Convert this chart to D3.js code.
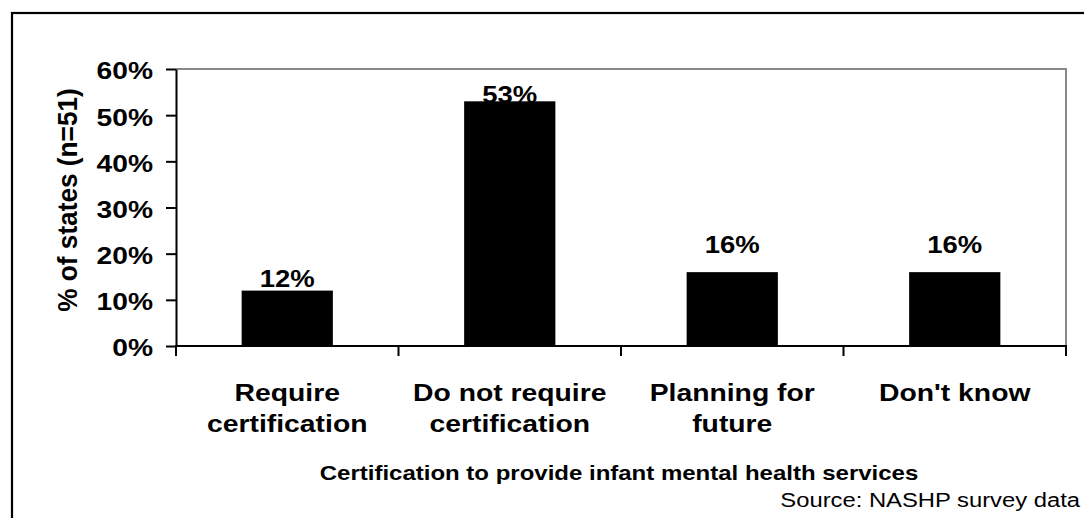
<!DOCTYPE html>
<html>
<head>
<meta charset="utf-8">
<script src="https://cdn.jsdelivr.net/npm/d3@7/dist/d3.min.js"></script>
<style>
  body { margin: 0; background: #fff; }
  svg { display: block; }
  text { font-family: "Liberation Sans", Arial, sans-serif; fill: #000; }
</style>
</head>
<body>
<script>
// chart data
var categories = [["Require", "certification"], ["Do not require", "certification"], ["Planning for", "future"], ["Don't know"]];
var values = [12, 53, 16, 16];
var yTicks = [0, 10, 20, 30, 40, 50, 60];
var yTitle = "% of states (n=51)";
var xTitle = "Certification to provide infant mental health services";
var source = "Source:  NASHP survey data";

var W = 1084, H = 518;
var plot = { left: 176, top: 69, right: 1066, bottom: 346 };
var sx = 1.2; // the original picture is stretched sideways

var svg = d3.select('body').append('svg')
    .attr('width', W)
    .attr('height', H);

// outer frame (runs off the right and bottom edges)
svg.append('rect')
   .attr('x', 12).attr('y', 13)
   .attr('width', W + 20).attr('height', H + 20)
   .attr('fill', 'none').attr('stroke', '#000').attr('stroke-width', 2.2);

var x = d3.scaleBand()
    .domain(d3.range(values.length))
    .range([plot.left, plot.right])
    .paddingInner(0.59)
    .paddingOuter(0.295);

var y = d3.scaleLinear()
    .domain([0, 60])
    .range([plot.bottom, plot.top]);

// grey plot border on top and right
svg.append('path')
   .attr('d', 'M' + plot.left + ',' + y(60) + 'H' + plot.right + 'V' + y(0))
   .attr('fill', 'none').attr('stroke', '#888').attr('stroke-width', 2);

function stretchedText(g, px, py, str, size, weight, anchor, scale) {
  return g.append('text')
    .attr('transform', 'translate(' + px + ',' + py + ') scale(' + scale + ',1)')
    .attr('text-anchor', anchor)
    .style('font-size', size + 'px')
    .style('font-weight', weight)
    .text(str);
}

// value labels go under the bars, the 53% one gets partly covered
var labelLift = [3.5, -2, 19, 19];
values.forEach(function(v, i) {
  stretchedText(svg, x(i) + x.bandwidth() / 2, y(v) - labelLift[i], v + '%', 23.5, 'bold', 'middle', 1.17);
});

svg.selectAll('rect.bar')
   .data(values)
   .enter()
   .append('rect')
   .attr('class', 'bar')
   .attr('x', function(d, i) { return x(i); })
   .attr('y', function(d) { return y(d); })
   .attr('width', x.bandwidth())
   .attr('height', function(d) { return y(0) - y(d); })
   .attr('fill', '#000');

// y axis
var yAxis = svg.append('g')
   .attr('transform', 'translate(' + plot.left + ',0)')
   .call(d3.axisLeft(y).tickValues(yTicks).tickSize(10).tickSizeOuter(0)
         .tickFormat(function(d) { return d + '%'; }));
yAxis.select('.domain').attr('stroke', '#000').attr('stroke-width', 2);
yAxis.selectAll('.tick line').attr('stroke', '#000').attr('stroke-width', 2);
yAxis.selectAll('.tick text')
   .attr('x', -23 / sx)
   .attr('dy', '0.42em')
   .attr('transform', 'scale(' + sx + ',1)')
   .style('font-size', '23.5px')
   .style('font-weight', 'bold')
   .style('font-family', '"Liberation Sans", Arial, sans-serif')
   .attr('fill', '#000');

// x axis: line plus ticks between the categories
svg.append('line')
   .attr('x1', plot.left - 1).attr('x2', plot.right + 1)
   .attr('y1', y(0)).attr('y2', y(0))
   .attr('stroke', '#000').attr('stroke-width', 2);
var bounds = d3.range(values.length + 1).map(function(i) {
  return plot.left + i * x.step();
});
svg.selectAll('line.xtick')
   .data(bounds)
   .enter()
   .append('line')
   .attr('class', 'xtick')
   .attr('x1', function(d) { return d; }).attr('x2', function(d) { return d; })
   .attr('y1', y(0)).attr('y2', y(0) + 10)
   .attr('stroke', '#000').attr('stroke-width', 2);

// category labels
categories.forEach(function(lines, i) {
  lines.forEach(function(t, j) {
    stretchedText(svg, x(i) + x.bandwidth() / 2, 401 + j * 31, t, 24, 'bold', 'middle', 1.18);
  });
});

// axis titles
svg.append('text')
   .attr('transform', 'translate(77,200) rotate(-90) scale(1.14,1.2)')
   .attr('text-anchor', 'middle')
   .style('font-size', '23px')
   .style('font-weight', 'bold')
   .text(yTitle);

stretchedText(svg, 619, 480, xTitle, 20, 'bold', 'middle', sx);
stretchedText(svg, 1080, 507, source, 20, 'normal', 'end', 1.19);
</script>
</body>
</html>
